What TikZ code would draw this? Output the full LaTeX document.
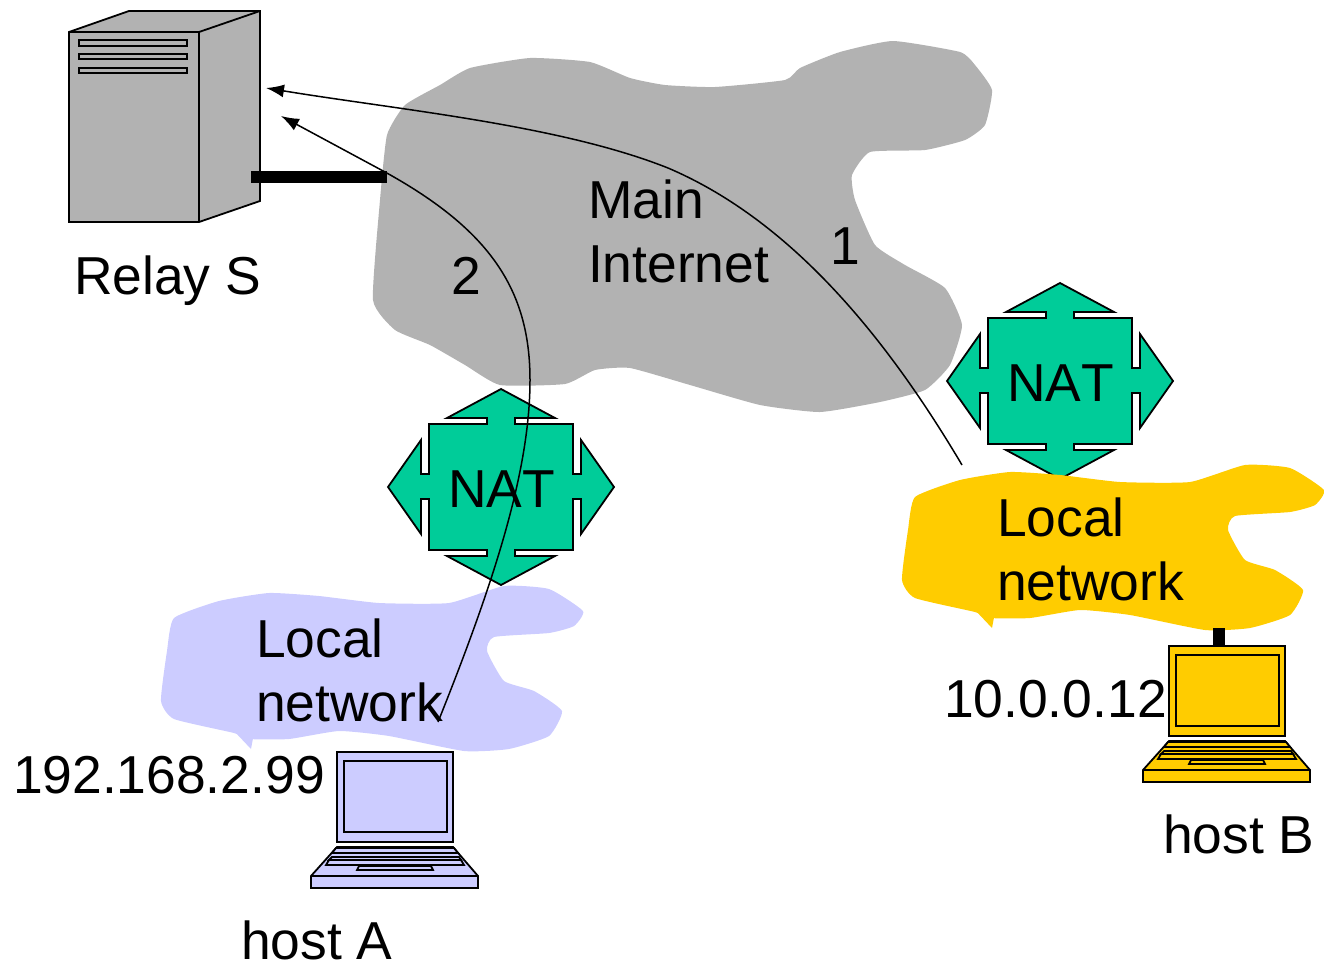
\documentclass[tikz,border=0pt]{standalone}
\usepackage{fontspec}
\setmainfont[Kerning=Off]{Liberation Sans}
\usetikzlibrary{arrows.meta}
\definecolor{lavcol}{HTML}{CCCCFF}
\definecolor{yelcol}{HTML}{FFCC00}
\definecolor{grncol}{HTML}{00CC99}
\definecolor{grycol}{HTML}{B2B2B2}
\tikzset{
  lbl/.style={anchor=base west,inner sep=0pt,outer sep=0pt,align=left,font=\fontsize{53.4}{64}\selectfont},
  outl/.style={draw=black,line width=1.8pt,line join=miter},
  link/.style={draw=black,line width=1.5pt,-{Latex[length=18pt,width=13pt]}},
  pics/laptop/.style={code={
    \path[outl,fill=#1] (337,752) rectangle (453,842);
    \path[outl,fill=#1] (344,761) rectangle (447,832);
    \path[outl,fill=#1] (337,847) -- (453,847) -- (478,876) -- (478,888) -- (311,888) -- (311,876) -- cycle;
    \path[outl] (311,876) -- (478,876);
    \path[outl,fill=#1] (336,848) -- (454,848) -- (458,853) -- (332,853) -- cycle;
    \path[outl,fill=#1] (332,857) -- (459,857) -- (461,860) -- (329,860) -- cycle;
    \path[outl,fill=#1] (329,860) -- (461,860) -- (464,865) -- (326,865) -- cycle;
    \path[outl,fill=#1] (359,866) -- (431,866) -- (433,870) -- (357,870) -- cycle;
  }},
  pics/natbox/.style={code={
    \path[outl,fill=grncol]
      (1060,283) -- (1114,312) -- (1074,312) -- (1074,318) -- (1132,318) -- (1132,368) -- (1140,368) -- (1140,334)
      -- (1173,381) -- (1140,428) -- (1140,393) -- (1132,393) -- (1132,444) -- (1074,444) -- (1074,450) -- (1114,450)
      -- (1060,479) -- (1006,450) -- (1046,450) -- (1046,444) -- (988,444) -- (988,393) -- (980,393) -- (980,428)
      -- (947,381) -- (980,334) -- (980,368) -- (988,368) -- (988,318) -- (1046,318) -- (1046,312) -- (1006,312) -- cycle;
  }},
  pics/lancloud/.style={code={
    \fill[#1] plot[smooth cycle,tension=0.3] coordinates {
      (915,497) (960,480) (1010,472) (1060,475) (1120,482) (1190,482) (1245,465) (1290,468) (1324,490)
      (1315,505) (1290,512) (1235,516) (1228,530) (1245,560) (1275,570) (1303,590) (1290,615) (1250,628)
      (1205,630) (1130,615) (1080,610) (1030,618) (990,618) (975,612) (915,598) (902,580) (908,530)};
    \fill[#1] (975,610) -- (992,628) -- (995,612) -- cycle;
  }}
}
\begin{document}
\begin{tikzpicture}[x=1pt,y=-1pt]
\useasboundingbox (0,0) rectangle (1324,964);
% main internet cloud
\fill[grycol] plot[smooth cycle,tension=0.3] coordinates {
  (387,135) (405,105) (440,85) (470,68) (530,58) (590,62) (630,78) (665,85) (715,87) (785,80) (800,68) (840,52)
  (893,41) (960,52) (975,65) (992,90) (985,125) (965,140) (925,150) (870,152) (852,175) (855,200) (875,245)
  (905,265) (945,288) (962,325) (950,365) (925,390) (880,402) (820,412) (760,405) (690,385) (630,368) (595,370)
  (565,384) (500,385) (465,365) (430,345) (395,330) (373,300) (380,200)};
% server
\path[outl,fill=grycol] (69,32) -- (129,11) -- (260,11) -- (260,201) -- (199,222) -- (69,222) -- cycle;
\path[outl] (69,32) -- (199,32) -- (260,11);
\path[outl] (199,32) -- (199,222);
\foreach \ya/\yb in {40/46,54/59,68/73}
  \path[outl,fill=grycol] (79,\ya) rectangle (187,\yb);
\fill[black] (251,171) rectangle (387,183);
% NATs
\pic at (0,0) {natbox};
\pic at (-559,106) {natbox};
% local networks
\pic at (0,0) {lancloud=yelcol};
\pic at (-741,121) {lancloud=lavcol};
\fill[black] (1213,628) rectangle (1225,647);
% laptops
\pic at (0,0) {laptop=lavcol};
\pic at (832,-106) {laptop=yelcol};
% labels
\node[lbl] (relay) at (74,294) {Relay S};
\node[lbl] (inet) at (588,282) {Main\\Internet};
\node[lbl] (one) at (830,264) {1};
\node[lbl] (two) at (451,294) {2};
\node[lbl] (natb) at (1007,401) {NAT};
\node[lbl] (nata) at (448,507) {NAT};
\node[lbl] (lanb) at (997,600) {Local\\network};
\node[lbl] (lana) at (256,721) {Local\\network};
\node[lbl] (ipb) at (944,717) {10.0.0.12};
\node[lbl] (ipa) at (13,793) {192.168.2.99};
\node[lbl] (hostb) at (1163,853) {host B};
\node[lbl] (hosta) at (241,959) {host A};
% connectors
\coordinate (s1) at (962,465);
\coordinate (m1) at (668,168);
\coordinate (e1) at (266,88);
\coordinate (s2) at (438,722);
\coordinate (m2) at (530,380);
\coordinate (k2) at (385,172);
\coordinate (e2) at (281,116);
\draw[link] (s1) .. controls (885,335) and (790,220) .. (m1) .. controls (560,125) and (400,110) .. (e1);
\draw[link] (s2) .. controls (495,580) and (530,470) .. (m2) .. controls (530,290) and (490,230) .. (k2) -- (e2);
\end{tikzpicture}
\end{document}
